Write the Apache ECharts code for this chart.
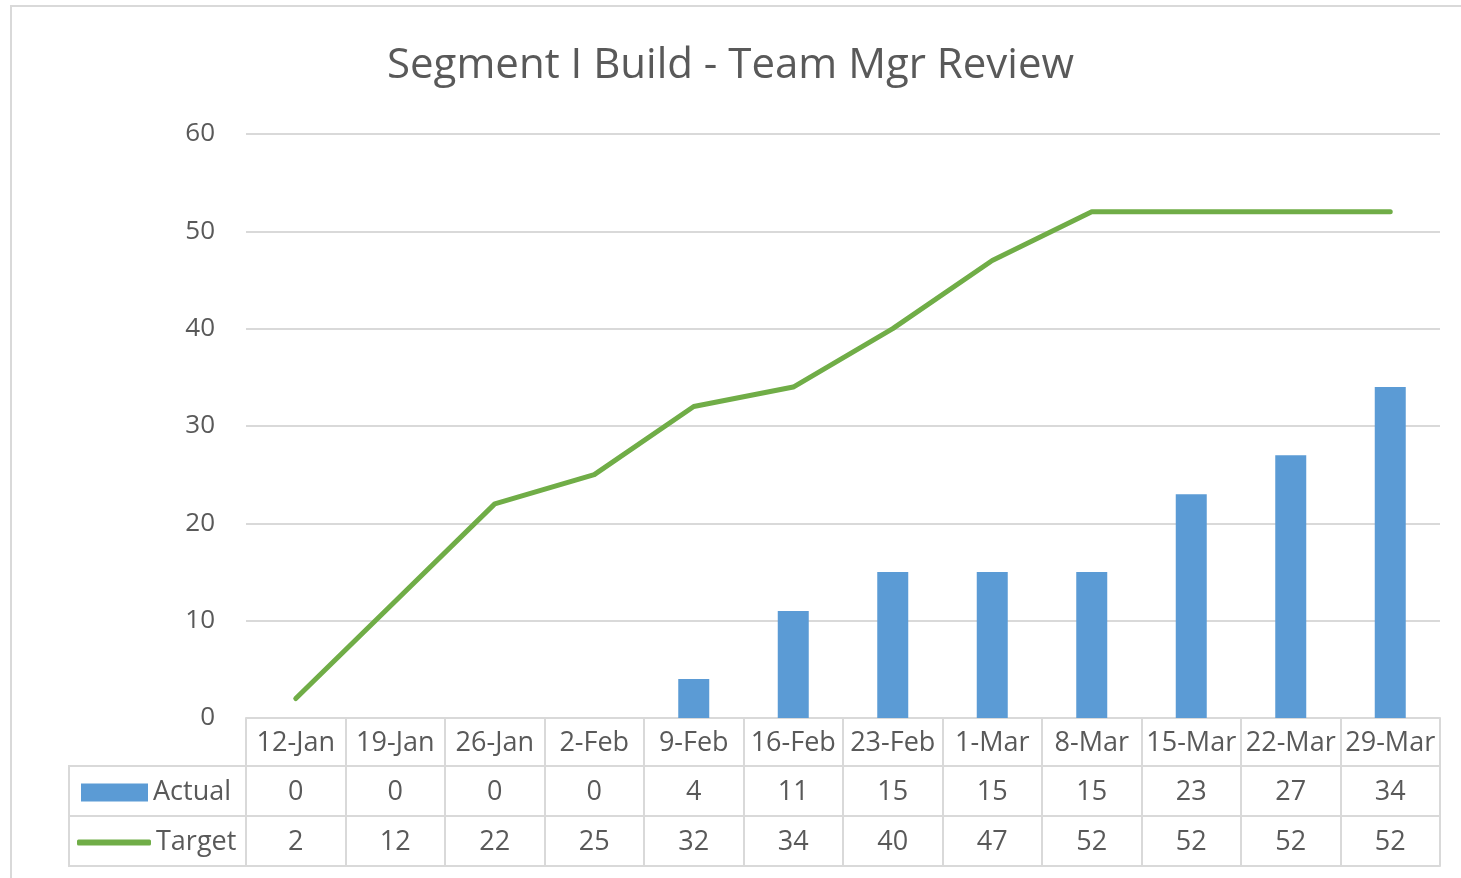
<!DOCTYPE html>
<html>
<head>
<meta charset="UTF-8">
<title>Segment I Build - Team Mgr Review</title>
<script type="text/javascript" src="https://cdn.jsdelivr.net/npm/echarts@6/dist/echarts.min.js"></script>
<style>
	html, body { margin: 0; padding: 0; background: #fff; }
</style>
</head>
<body>
	<div id="main" style="width: 1461px; height: 878px;"></div>

	<script type="text/javascript">
	var weeks = ['12-Jan', '19-Jan', '26-Jan', '2-Feb', '9-Feb', '16-Feb', '23-Feb', '1-Mar', '8-Mar', '15-Mar', '22-Mar', '29-Mar'];
	var actual = [0, 0, 0, 0, 4, 11, 15, 15, 15, 23, 27, 34];
	var target = [2, 12, 22, 25, 32, 34, 40, 47, 52, 52, 52, 52];
	var yTicks = [0, 10, 20, 30, 40, 50, 60];

	var font = '"Open Sans", "Noto Sans", sans-serif';
	var txt = '#595959';
	var gridCol = '#d9d9d9';

	var chart = echarts.init(document.getElementById('main'));

	// 表格行：用额外的 x 轴画出数值
	function rowAxis(vals, offset, showLabel) {
		return {
			type: 'category',
			position: 'bottom',
			offset: offset,
			data: vals.map(function (v) { return String(v); }),
			axisLine: { show: true, lineStyle: { color: gridCol, width: 2 } },
			axisTick: { show: false },
			axisLabel: {
				show: showLabel, interval: 0, margin: 13,
				fontFamily: font, fontSize: 27, color: txt
			},
			splitLine: { show: false }
		};
	}

	var option = {
		animation: false,
		title: {
			text: 'Segment I Build - Team Mgr Review',
			left: 'center',
			top: 40,
			textStyle: { fontFamily: font, fontSize: 42, fontWeight: 'normal', color: txt }
		},
		legend: [{
			data: ['Actual'],
			left: 81, top: 779, padding: 0,
			itemWidth: 67, itemHeight: 18, itemGap: 4,
			icon: 'rect',
			textStyle: { fontFamily: font, fontSize: 27, color: txt }
		}, {
			data: ['Target'],
			left: 77, top: 829, padding: 0,
			itemWidth: 74, itemHeight: 6, itemGap: 2,
			icon: 'roundRect',
			textStyle: { fontFamily: font, fontSize: 27, color: txt }
		}],
		grid: { left: 246, right: 21, top: 134, bottom: 160, containLabel: false },
		xAxis: [{
			type: 'category',
			position: 'bottom',
			data: weeks,
			axisLine: { show: true, lineStyle: { color: gridCol, width: 2 } },
			axisTick: { show: true, inside: false, length: 148, lineStyle: { color: gridCol, width: 2 } },
			axisLabel: { interval: 0, margin: 12, fontFamily: font, fontSize: 27, color: txt },
			splitLine: { show: false }
		},
			rowAxis(actual, 48, true),
			rowAxis(target, 98, true),
			rowAxis(weeks, 148, false)
		],
		yAxis: {
			type: 'value',
			min: yTicks[0],
			max: yTicks[yTicks.length - 1],
			interval: 10,
			axisLine: { show: false },
			axisTick: { show: false },
			axisLabel: { margin: 31, fontFamily: font, fontSize: 26, color: txt },
			splitLine: { lineStyle: { color: gridCol, width: 2 } }
		},
		graphic: [
			// 图表外框
			{ type: 'rect', shape: { x: 11, y: 6, width: 1470, height: 900 },
				style: { fill: 'none', stroke: gridCol, lineWidth: 2 }, silent: true },
			// 图例列的表格线
			{ type: 'polyline', shape: { points: [[246, 766], [69, 766], [69, 866], [246, 866]] },
				style: { fill: 'none', stroke: gridCol, lineWidth: 2 }, silent: true },
			{ type: 'line', shape: { x1: 69, y1: 816, x2: 246, y2: 816 },
				style: { stroke: gridCol, lineWidth: 2 }, silent: true }
		],
		series: [{
			name: 'Actual',
			type: 'bar',
			data: actual,
			barWidth: 31,
			itemStyle: { color: '#5b9bd5' }
		}, {
			name: 'Target',
			type: 'line',
			data: target,
			showSymbol: false,
			symbol: 'none',
			lineStyle: { color: '#70ad47', width: 5, cap: 'round', join: 'round' },
			itemStyle: { color: '#70ad47' }
		}]
	};

	chart.setOption(option);
	</script>
</body>
</html>
